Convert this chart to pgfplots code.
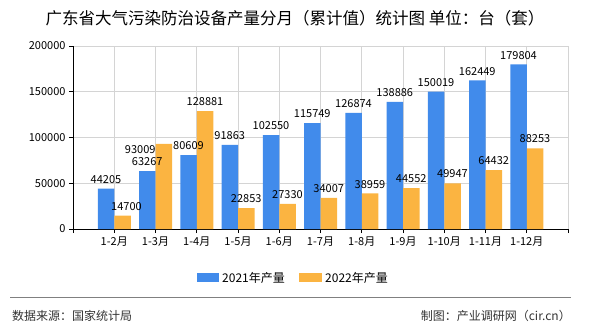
\documentclass[border=0pt]{standalone}
\usepackage{pgfplots}
\pgfplotsset{compat=1.18}
\usepackage{pgfplotstable}
\usepackage{fontspec}
\setmainfont{Noto Sans CJK SC}
\definecolor{cblue}{RGB}{65,139,235}
\definecolor{corange}{RGB}{251,180,65}
\definecolor{cgrid}{RGB}{212,212,212}
\definecolor{cfoot}{RGB}{51,51,51}

\pgfplotstableread{
x y dx dy
1 44205 0 0
2 63267 0 0
3 80609 0 0
4 91863 0 0
5 102550 0 0
6 115749 0 0
7 126874 0 0
8 138886 0 0
9 150019 0 0
10 162449 0 0
11 179804 0 0
}\tblA
\pgfplotstableread{
x y dx dy
1 14700 4 0
2 93009 -23.5 -15
3 128881 0 0
4 22853 0 0
5 27330 0 0
6 34007 0 0
7 38959 0 0
8 44552 0 0
9 49947 0 0
10 64432 0 0
11 88253 0 0
}\tblB

\begin{document}
\begin{tikzpicture}[x=1pt,y=1pt]
\useasboundingbox (0pt,0pt) rectangle (590pt,-330pt);
\begin{axis}[
  at={(73pt,-229pt)}, anchor=south west,
  scale only axis, width=495pt, height=183pt,
  xmin=0, xmax=12, ymin=0, ymax=200000,
  xtick={0,...,12},
  xticklabels={,1-2月,1-3月,1-4月,1-5月,1-6月,1-7月,1-8月,1-9月,1-10月,1-11月,1-12月,},
  ytick={0,50000,100000,150000,200000},
  scaled y ticks=false,
  /pgf/number format/fixed,
  /pgf/number format/1000 sep={},
  /pgf/number format/assume math mode=true,
  grid=major,
  major grid style={cgrid, line width=0.8pt},
  axis line style={black, line width=0.8pt},
  tick style={black, line width=0.8pt},
  major tick length=4pt,
  tick align=outside,
  axis x line*=bottom,
  axis y line*=left,
  tick label style={font=\fontsize{11}{13}\selectfont, text=black},
  ybar=0pt, bar width=16.5pt,
  nodes near coords,
  visualization depends on={\thisrow{dx} \as \dx},
  visualization depends on={\thisrow{dy} \as \dy},
  every node near coord/.append style={font=\fontsize{11}{13}\selectfont, text=black, xshift=\dx pt, yshift={\dy pt+3pt}, inner sep=2pt},
  clip=false,
]
\addplot[fill=cblue, draw=none] table[x=x,y=y] {\tblA};
\addplot[fill=corange, draw=none] table[x=x,y=y] {\tblB};
\end{axis}
% title
\node[font=\fontsize{16.5}{19}\selectfont] at (295pt,-18pt) {广东省大气污染防治设备产量分月（累计值）统计图 单位：台（套）};
% legend
\fill[cblue] (197pt,-273pt) rectangle (219pt,-282pt);
\node[anchor=west, font=\fontsize{12}{14}\selectfont, inner sep=0pt] at (222pt,-277.5pt) {2021年产量};
\fill[corange] (299pt,-273pt) rectangle (322pt,-282pt);
\node[anchor=west, font=\fontsize{12}{14}\selectfont, inner sep=0pt] at (325pt,-277.5pt) {2022年产量};
% footer
\draw[gray, line width=0.8pt] (10pt,-297.7pt) -- (571pt,-297.7pt);
\node[anchor=west, font=\fontsize{12}{14}\selectfont, text=cfoot, inner sep=0pt] at (12pt,-316pt) {数据来源：国家统计局};
\node[anchor=east, font=\fontsize{12}{14}\selectfont, text=cfoot, inner sep=0pt] at (571pt,-316pt) {制图：产业调研网（cir.cn）};
\end{tikzpicture}
\end{document}
